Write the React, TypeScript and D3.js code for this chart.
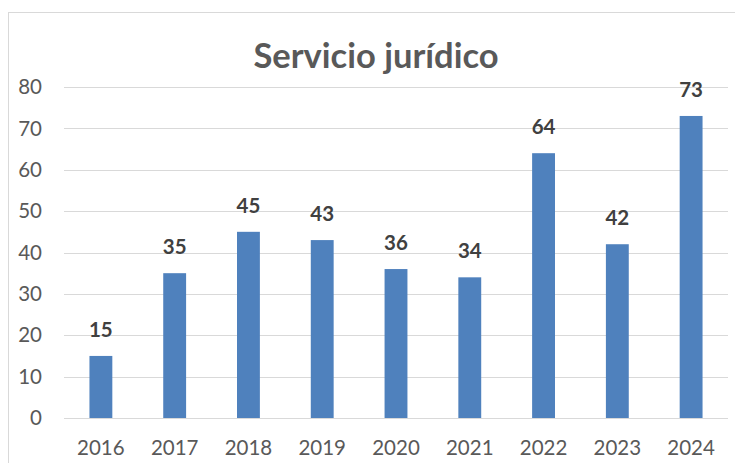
import React from "react";
import * as d3 from "d3";

const years = ["2016", "2017", "2018", "2019", "2020", "2021", "2022", "2023", "2024"];
const counts = [15, 35, 45, 43, 36, 34, 64, 42, 73];
const yTicks = [0, 10, 20, 30, 40, 50, 60, 70, 80];

const W = 735;
const H = 463;
const FONT = "Lato, Calibri, sans-serif";

export default function App() {
  const x = d3.scaleBand().domain(years).range([64, 728]).paddingInner(0.69).paddingOuter(0.345);
  const y = d3.scaleLinear().domain([0, 80]).range([418, 87]);

  return (
    <svg
      width={W}
      height={H}
      style={{ position: "absolute", left: 0, top: 0, background: "#fff" }}
      fontFamily={FONT}
    >
      {/* chart frame */}
      <rect x={8.5} y={12.5} width={W + 10} height={H + 10} fill="none" stroke="#d9d9d9" strokeWidth={1} />

      <text x={376} y={68} textAnchor="middle" fontSize={34.5} fontWeight="bold" fill="#595959">
        Servicio jurídico
      </text>

      {yTicks.map((t) => (
        <g key={t}>
          <line x1={64} x2={728} y1={Math.round(y(t)) + 0.5} y2={Math.round(y(t)) + 0.5} stroke="#d9d9d9" strokeWidth={1} />
          <text x={42} y={y(t)} dy="0.35em" textAnchor="end" fontSize={20.5} fill="#595959">
            {t}
          </text>
        </g>
      ))}

      {years.map((yr, i) => (
        <g key={yr}>
          <rect
            x={x(yr)!}
            y={y(counts[i])}
            width={x.bandwidth()}
            height={y(0) - y(counts[i])}
            fill="#4f81bd"
          />
          <text
            x={x(yr)! + x.bandwidth() / 2}
            y={y(counts[i]) - 19}
            textAnchor="middle"
            fontSize={20.5}
            fontWeight="bold"
            fill="#404040"
          >
            {counts[i]}
          </text>
          <text x={x(yr)! + x.bandwidth() / 2} y={455} textAnchor="middle" fontSize={20.5} fill="#595959">
            {yr}
          </text>
        </g>
      ))}
    </svg>
  );
}
